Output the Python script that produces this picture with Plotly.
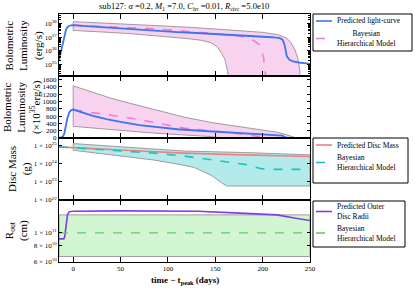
import plotly.graph_objects as go
from plotly.subplots import make_subplots

# ---------------- data ----------------
# luminosity in units of 1e35 erg/s
t_lc = [-15, -13, -11, -9.5, -7.5, -6, -4, -2, 0, 10, 20, 35, 50, 70, 90, 110, 130, 150, 170, 190, 200, 210, 218, 221, 223, 224.5, 225.5, 228, 232, 238, 250]
lum_lc = [2, 8, 30, 120, 390, 560, 710, 765, 780, 690, 615, 520, 440, 355, 290, 240, 205, 175, 150, 128, 115, 100, 85, 65, 30, 10, 4, 2.2, 1.6, 1.35, 1.05]

t_bhm = [0, 17, 34, 51, 69, 86, 103, 117, 130, 146, 160, 170, 181, 190, 196, 199, 201, 203, 205]
lum_bhm = [780, 700, 650, 590, 510, 420, 340, 270, 235, 195, 160, 135, 100, 60, 30, 10, 3, 0.3, 0.01]

t_lum_up = [0, 20, 40, 60, 80, 100, 117, 146, 181, 200, 215, 225, 230, 234, 237, 239, 240]
lum_up = [1430, 1250, 1090, 950, 820, 690, 573, 424, 290, 230, 160, 90, 40, 12, 3, 0.5, 0.01]
t_lum_lo = [0, 20, 40, 60, 80, 100, 120, 135, 145, 152, 157, 160, 163, 165]
lum_lo = [320, 270, 225, 185, 145, 110, 80, 60, 40, 20, 6, 2.5, 0.3, 0.01]

# disc mass in units of 1e24 g
t_md = [-15, 0, 25, 50, 75, 100, 117, 150, 200, 250]
md = [8.9, 7.9, 6.9, 5.9, 5.0, 4.3, 4.0, 3.5, 3.0, 2.6]
t_md_bhm = [-15, 0, 25, 50, 85, 117, 146, 181, 198, 205, 250]
md_bhm = [8.9, 7.9, 6.6, 5.2, 4.0, 2.75, 1.66, 0.95, 0.55, 0.5, 0.5]
t_md_up = [0, 50, 117, 181, 250]
md_up = [13.5, 8.9, 5.2, 4.3, 3.2]
t_md_lo = [0, 51, 85, 117, 128, 146, 156.6, 162, 250]
md_lo = [5.75, 2.75, 1.66, 0.85, 0.63, 0.23, 0.091, 0.06, 0.06]

# outer radius in units of 1e10 cm
t_r = [-15, -10, -9, -8, -7, -6, -4, 0, 50, 100, 132, 170, 215, 235, 250]
r_out = [9.0, 9.0, 9.3, 10.5, 12.5, 13.8, 14.5, 14.6, 14.7, 14.7, 14.6, 14.2, 13.7, 12.9, 12.4]
t_r_bhm = [-15, 250]
r_bhm = [10.0, 10.0]
r_up = [13.7, 13.7]
r_lo = [6.6, 6.6]

# ---------------- styles ----------------
SERIF = "Liberation Serif, Times New Roman, serif"
C_BLUE = "#3f74ee"
C_PINK = "#f77ad9"
C_PINKF = "rgba(246,196,233,0.75)"
C_SAL = "#f08080"
C_TEAL = "#1fc2c2"
C_TEALF = "rgba(160,230,230,0.8)"
C_PURP = "#7f3fe6"
C_GREEN = "#66cc66"
C_GREENF = "rgba(205,245,205,0.9)"
C_EDGE = "#a09aa0"

fig = make_subplots(rows=4, cols=1, shared_xaxes=True, vertical_spacing=0)


def band(row, tu, yu, tl, yl, scale, fillc):
    xs = list(tu) + list(tl)[::-1] + [tu[0]]
    ys = [v * scale for v in yu] + [v * scale for v in yl][::-1] + [yu[0] * scale]
    fig.add_trace(go.Scatter(x=xs, y=ys, mode="lines", fill="toself", fillcolor=fillc,
                             line=dict(color=C_EDGE, width=1), showlegend=False,
                             hoverinfo="skip"), row=row, col=1)


# panel 1 (log luminosity)
band(1, t_lum_up, lum_up, t_lum_lo, lum_lo, 1e35, C_PINKF)
fig.add_trace(go.Scatter(x=t_bhm, y=[v * 1e35 for v in lum_bhm], mode="lines",
                         line=dict(color=C_PINK, width=1.6, dash="dash"), showlegend=False), row=1, col=1)
fig.add_trace(go.Scatter(x=t_lc, y=[v * 1e35 for v in lum_lc], mode="lines",
                         line=dict(color=C_BLUE, width=1.8), showlegend=False), row=1, col=1)

# panel 2 (linear luminosity)
band(2, t_lum_up, lum_up, t_lum_lo, lum_lo, 1, C_PINKF)
fig.add_trace(go.Scatter(x=t_bhm, y=lum_bhm, mode="lines",
                         line=dict(color=C_PINK, width=1.6, dash="dash"), showlegend=False), row=2, col=1)
fig.add_trace(go.Scatter(x=t_lc, y=lum_lc, mode="lines",
                         line=dict(color=C_BLUE, width=1.8), showlegend=False), row=2, col=1)

# panel 3 (disc mass)
band(3, t_md_up, md_up, t_md_lo, md_lo, 1e24, C_TEALF)
fig.add_trace(go.Scatter(x=t_md, y=[v * 1e24 for v in md], mode="lines",
                         line=dict(color=C_SAL, width=1.6), showlegend=False), row=3, col=1)
fig.add_trace(go.Scatter(x=t_md_bhm, y=[v * 1e24 for v in md_bhm], mode="lines",
                         line=dict(color=C_TEAL, width=1.6, dash="dash"), showlegend=False), row=3, col=1)

# panel 4 (outer radius)
band(4, t_r_bhm, r_up, t_r_bhm, r_lo, 1e10, C_GREENF)
fig.add_trace(go.Scatter(x=t_r, y=[v * 1e10 for v in r_out], mode="lines",
                         line=dict(color=C_PURP, width=1.6), showlegend=False), row=4, col=1)
fig.add_trace(go.Scatter(x=t_r_bhm, y=[v * 1e10 for v in r_bhm], mode="lines",
                         line=dict(color=C_GREEN, width=1.4, dash="dash"), showlegend=False), row=4, col=1)

# ---------------- axes ----------------
W, H = 415, 291
L, R, T, B = 59, 310, 14, 262
tickfont = dict(family=SERIF, size=7, color="black")

doms = [[0.75, 1.0], [0.5, 0.75], [0.25, 0.5], [0.0, 0.25]]
for i in range(1, 5):
    fig.update_xaxes(row=i, col=1, range=[-15, 250], tickvals=[0, 50, 100, 150, 200, 250],
                     ticks="inside", ticklen=5, tickwidth=1, tickcolor="black",
                     showline=True, linecolor="black", linewidth=1, mirror="ticks",
                     showgrid=False, zeroline=False, tickfont=tickfont,
                     showticklabels=(i == 4))
    fig.update_yaxes(row=i, col=1, ticks="inside", ticklen=3, tickwidth=1, tickcolor="black",
                     showline=True, linecolor="black", linewidth=1, mirror="ticks",
                     showgrid=False, zeroline=False, tickfont=tickfont, domain=doms[i - 1])

minor1 = [float(m) * 10.0 ** e for e in range(34, 39) for m in range(2, 10)]
fig.update_yaxes(row=1, col=1, type="log", range=[34.13, 38.72],
                 tickvals=[1e35, 1e36, 1e37, 1e38],
                 ticktext=["10<sup>35</sup>", "10<sup>36</sup>", "10<sup>37</sup>", "10<sup>38</sup>"],
                 minor=dict(tickmode="array", tickvals=minor1, ticks="inside", ticklen=2,
                            tickcolor="black", showgrid=False))
fig.update_yaxes(row=2, col=1, range=[0, 1700], tickvals=list(range(0, 1601, 200)))
fig.update_yaxes(row=3, col=1, type="log", range=[22, 25.44],
                 tickvals=[1e22, 1e23, 1e24, 1e25],
                 ticktext=["1 × 10<sup>22</sup>", "1 × 10<sup>23</sup>", "1 × 10<sup>24</sup>", "1 × 10<sup>25</sup>"])
fig.update_yaxes(row=4, col=1, type="log", range=[10.778, 11.25],
                 tickvals=[6e10, 8e10, 1e11],
                 ticktext=["6 × 10<sup>10</sup>", "8 × 10<sup>10</sup>", "1 × 10<sup>11</sup>"])


def px(x):
    return (x - L) / (R - L)


def py(y):
    return (B - y) / (B - T)


ann = []
shapes = []

# y-axis titles
ytitles = [
    ("Bolometric<br>Luminosity<br>(erg/s)", 24, 46),
    ("Bolometric<br>Luminosity<br>(×10<sup>35</sup>erg/s)", 22, 107),
    ("Disc Mass<br>(g)", 19, 169),
    ("R<sub>out</sub><br>(cm)", 16, 231),
]
for txt, xx, yy in ytitles:
    ann.append(dict(text=txt, x=px(xx), y=py(yy), xref="paper", yref="paper", showarrow=False,
                    textangle=-90, xanchor="center", yanchor="middle", align="center",
                    font=dict(family=SERIF, size=11, color="black")))

# title and x-axis title
ann.append(dict(text="sub127: <i>α</i> =0.2, <i>M</i><sub>1</sub> =7.0, <i>C</i><sub>irr</sub> =0.01, <i>R</i><sub>circ</sub> =5.0e10",
                x=px(184), y=py(6), xref="paper", yref="paper", showarrow=False,
                xanchor="center", yanchor="middle", font=dict(family=SERIF, size=8.6, color="black")))
ann.append(dict(text="<b>time − t<sub>peak</sub> (days)</b>", x=px(185), y=py(280), xref="paper", yref="paper",
                showarrow=False, xanchor="center", yanchor="middle",
                font=dict(family=SERIF, size=9, color="black")))

# custom legends
legfont = dict(family=SERIF, size=7.5, color="black")


def legend_box(x0, y0, x1, y1, items):
    shapes.append(dict(type="rect", xref="paper", yref="paper", x0=px(x0), x1=px(x1), y0=py(y1), y1=py(y0),
                       line=dict(color="black", width=1), fillcolor="white", layer="above"))
    for (ly, color, dash, txt, ty, align) in items:
        shapes.append(dict(type="line", xref="paper", yref="paper", x0=px(x0 + 3), x1=px(x0 + 19),
                           y0=py(ly), y1=py(ly), line=dict(color=color, width=1.6, dash=dash), layer="above"))
        ann.append(dict(text=txt, x=px(x0 + 22), y=py(ty), xref="paper", yref="paper", showarrow=False,
                        xanchor="left", yanchor="middle", align=align, font=legfont))


legend_box(313, 14, 412, 51, [
    (21, C_BLUE, "solid", "Predicted light-curve", 21, "left"),
    (38.5, C_PINK, "dash", "Bayesian<br>Hierarchical Model", 38.5, "center"),
])
legend_box(313, 138, 408, 183, [
    (145, C_SAL, "solid", "Predicted Disc Mass", 145, "left"),
    (162.5, C_TEAL, "dash", "Bayesian<br>Hierarchical Model", 162.5, "left"),
])
legend_box(313, 201, 405, 247, [
    (211.5, C_PURP, "solid", "Predicted Outer<br>Disc Radii", 211.5, "left"),
    (233, C_GREEN, "dash", "Bayesian<br>Hierarchical Model", 233, "left"),
])

fig.update_layout(width=W, height=H, margin=dict(l=L, r=W - R, t=T, b=H - B, pad=0),
                  paper_bgcolor="white", plot_bgcolor="white", showlegend=False,
                  annotations=ann, shapes=shapes, font=dict(family=SERIF, color="black"))

fig.write_html("out.html", config={"displayModeBar": False},
               post_script="document.body.style.margin='0px';")
